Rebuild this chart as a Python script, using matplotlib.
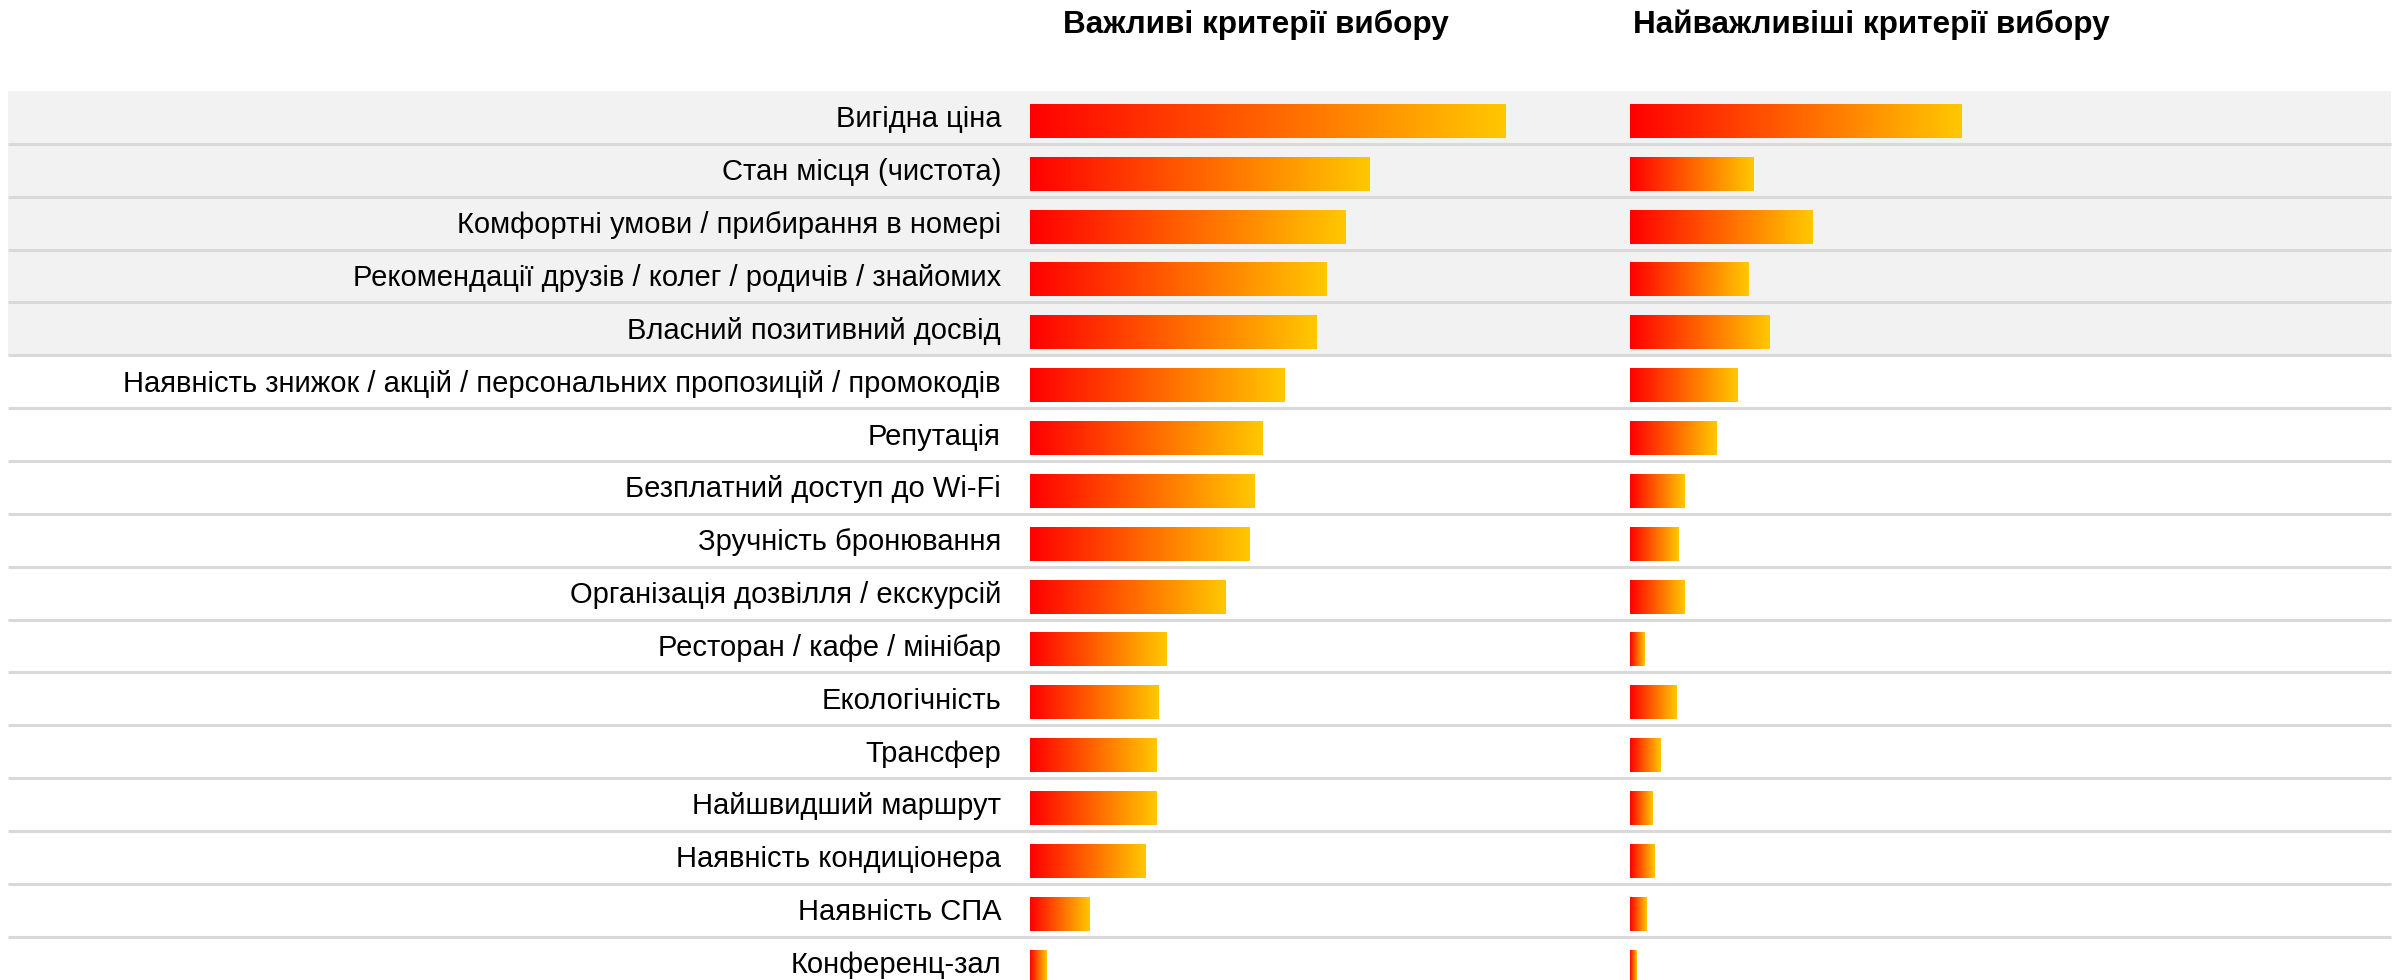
import matplotlib
matplotlib.use('Agg')
import matplotlib.pyplot as plt
import numpy as np
from matplotlib.colors import LinearSegmentedColormap

plt.rcParams['font.family'] = ['Liberation Sans', 'DejaVu Sans']

categories = [
    'Вигідна ціна',
    'Стан місця (чистота)',
    'Комфортні умови / прибирання в номері',
    'Рекомендації друзів / колег / родичів / знайомих',
    'Власний позитивний досвід',
    'Наявність знижок / акцій / персональних пропозицій / промокодів',
    'Репутація',
    'Безплатний доступ до Wi-Fi',
    'Зручність бронювання',
    'Організація дозвілля / екскурсій',
    'Ресторан / кафе / мінібар',
    'Екологічність',
    'Трансфер',
    'Найшвидший маршрут',
    'Наявність кондиціонера',
    'Наявність СПА',
    'Конференц-зал',
]
important = [59.5, 42.5, 39.5, 37.1, 35.8, 31.8, 29.1, 28.1, 27.5, 24.5,
             17.1, 16.1, 15.8, 15.8, 14.5, 7.5, 2.1]
most_important = [41.5, 15.5, 22.8, 14.8, 17.5, 13.5, 10.8, 6.8, 6.1, 6.8,
                  1.8, 5.8, 3.8, 2.8, 3.1, 2.1, 0.8]
titles = ['Важливі критерії вибору', 'Найважливіші критерії вибору']
n_shaded = 5

W, H = 2405, 980
TOP = 91          # px, top of first row
P = 52.85         # px, row pitch
BAR_H = 34        # px
BAR_OFF = 3.5     # px, bar centre below row centre

grad_cmap = LinearSegmentedColormap.from_list('redgold', ['#ff0000', '#ffc800'])
grad = np.linspace(0, 1, 256).reshape(1, -1)

fig = plt.figure(figsize=(W / 100, H / 100), dpi=100, facecolor='white')

# background axis: x in px, y in rows
ax = fig.add_axes([0, 0, 1, 1])
ax.set_xlim(0, W)
ylim = ((H - TOP) / P, -TOP / P)
ax.set_ylim(*ylim)
ax.axis('off')

n = len(categories)
x_left, x_right = 8, 2391
ax.fill_between([x_left, x_right], 0, n_shaded, color='#f2f2f2', lw=0, zorder=0)
for i in range(n):
    ax.plot([x_left, x_right], [i + 1, i + 1], color='#d9d9d9', lw=2.2,
            solid_capstyle='butt', zorder=1)
    ax.text(1001, i + 0.5 + 10 / P, categories[i], ha='right', va='baseline',
            fontsize=21, color='#000000', zorder=3)

for x, t in zip([1063, 1633], titles):
    ax.text(x, (33 - TOP) / P, t, ha='left', va='baseline', fontsize=22.7,
            fontweight='bold', color='#000000')

# bar axes, 8 px per percent
ypos = np.arange(n) + 0.5 + BAR_OFF / P
for x0, vals in zip([1030, 1630], [important, most_important]):
    bax = fig.add_axes([x0 / W, 0, 560 / W, 1])
    bax.set_xlim(0, 70)
    bax.set_ylim(*ylim)
    bax.axis('off')
    bars = bax.barh(ypos, vals, height=BAR_H / P, color='none', lw=0)
    for b in bars:
        bx, by, bw, bh = b.get_x(), b.get_y(), b.get_width(), b.get_height()
        im = bax.imshow(grad, extent=[bx, bx + bw, by, by + bh], cmap=grad_cmap,
                        aspect='auto', interpolation='bicubic', zorder=2)
        im.set_clip_path(b)
    bax.set_xlim(0, 70)
    bax.set_ylim(*ylim)

fig.savefig('out.png', dpi=100, facecolor='white')
